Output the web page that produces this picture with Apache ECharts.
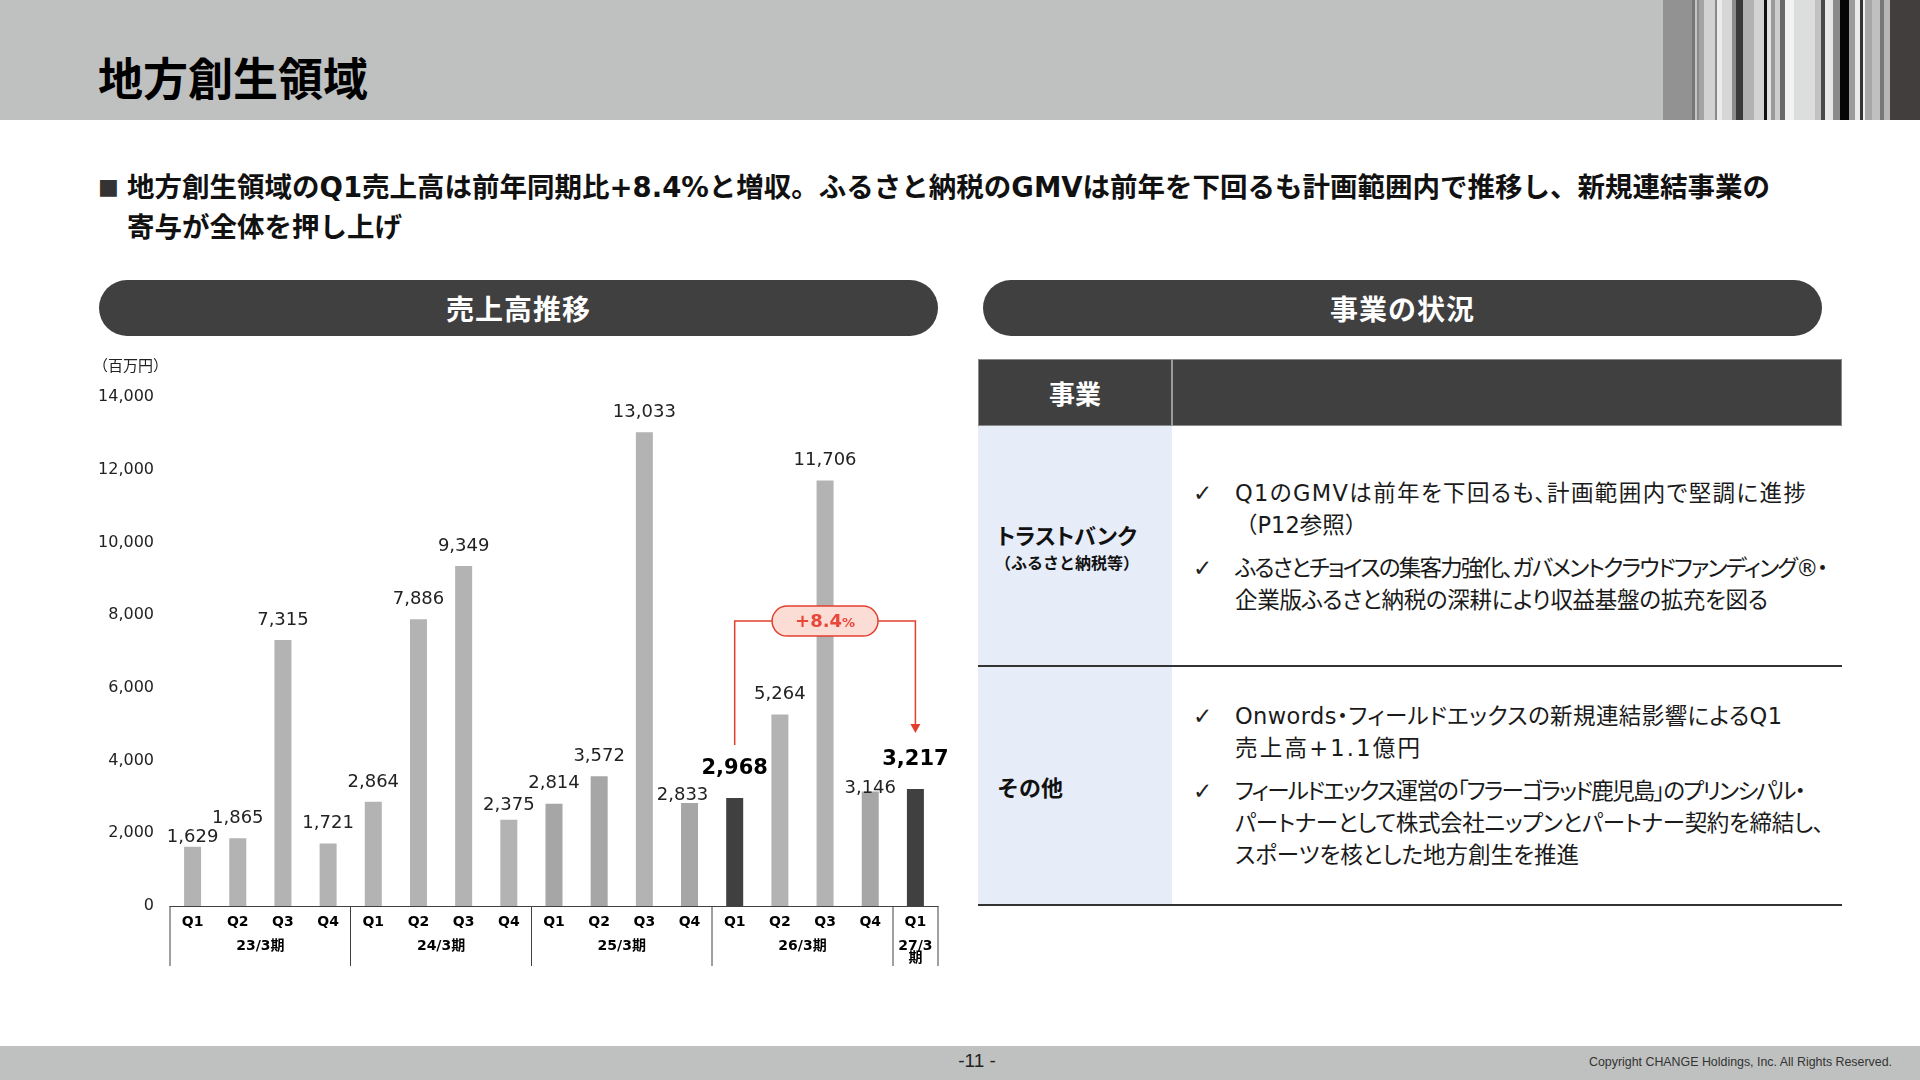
<!DOCTYPE html>
<html>
<head>
<meta charset="utf-8">
<script src="https://cdn.jsdelivr.net/npm/echarts@6/dist/echarts.min.js"></script>
<style>
html,body{margin:0;padding:0;width:1920px;height:1080px;overflow:hidden;background:#fff;
  font-family:"DejaVu Sans","Noto Sans CJK JP",sans-serif;color:#111;}
.abs{position:absolute;white-space:nowrap;}
#hdr{left:0;top:0;width:1920px;height:120px;background:#bfc1c0;}
#title{left:98px;top:52px;font-size:45px;line-height:50px;font-weight:700;color:#000;font-family:"Noto Sans CJK JP",sans-serif;}
#sq{left:98px;top:167px;font-size:22px;line-height:40px;color:#333;}
#lead{left:127px;top:167px;font-size:27.5px;line-height:40px;font-weight:700;color:#111;}
.pill{height:56px;top:280px;border-radius:28px;background:#404040;color:#fff;font-weight:700;font-size:28px;
  display:flex;align-items:center;justify-content:center;font-family:"Noto Sans CJK JP",sans-serif;letter-spacing:1px;}
#thead{left:978px;top:359px;width:864px;height:67px;background:#404040;box-sizing:border-box;border:1px solid #8a8a8a;}
#thdiv{left:1171px;top:359px;width:2px;height:67px;background:#9a9a9a;}
#thtxt{left:978px;top:359px;width:194px;height:67px;display:flex;align-items:center;justify-content:center;
  color:#fff;font-weight:700;font-size:26px;font-family:"Noto Sans CJK JP",sans-serif;}
#col1{left:978px;top:426px;width:194px;height:479px;background:#e7edf8;}
.hline{left:978px;width:864px;height:2px;background:#333;}
.rowh{font-weight:700;color:#111;font-family:"Noto Sans CJK JP",sans-serif;}
.chk{left:1193px;font-size:23px;line-height:32px;color:#222;}
.btx{left:1235px;font-size:22.5px;line-height:32px;color:#1a1a1a;font-feature-settings:"palt";}
.btx span{display:inline-block;}
#foot{left:0;top:1046px;width:1920px;height:34px;background:#bfc1c0;}
#pg{left:0;width:1954px;top:1046px;height:30px;line-height:30px;text-align:center;font-size:19px;color:#222;font-family:"Liberation Sans Narrow","Liberation Sans",sans-serif;}
#copy{right:28px;top:1053px;font-size:12.4px;line-height:18px;color:#333;font-family:"Liberation Sans Narrow","Liberation Sans",sans-serif;}
#chart{position:absolute;left:0;top:0;width:1920px;height:1080px;z-index:5;}
</style>
</head>
<body>
<div id="hdr" class="abs"></div>
<div id="stripes"></div>
<div id="title" class="abs">地方創生領域</div>
<div id="sq" class="abs">■</div>
<div id="lead" class="abs">地方創生領域のQ1売上高は前年同期比+8.4%と増収。ふるさと納税のGMVは前年を下回るも計画範囲内で推移し、新規連結事業の<br>寄与が全体を押し上げ</div>
<div class="abs pill" style="left:99px;width:839px;">売上高推移</div>
<div class="abs pill" style="left:983px;width:839px;">事業の状況</div>

<div id="thead" class="abs"></div>
<div id="thdiv" class="abs"></div>
<div id="thtxt" class="abs">事業</div>
<div id="col1" class="abs"></div>
<div class="abs hline" style="top:665px;"></div>
<div class="abs hline" style="top:904px;"></div>

<div class="abs rowh" style="left:997px;top:520px;font-size:22px;line-height:28px;font-feature-settings:'palt';">トラストバンク</div>
<div class="abs rowh" style="left:995px;top:551px;font-size:16px;line-height:22px;">（ふるさと納税等）</div>
<div class="abs rowh" style="left:997px;top:772px;font-size:22px;line-height:28px;">その他</div>

<div class="abs chk" style="top:477px;">✓</div>
<div class="abs btx" style="top:477px;"><span data-w="571">Q1のGMVは前年を下回るも、計画範囲内で堅調に進捗</span><br><span style="font-feature-settings:normal">（P12参照）</span></div>
<div class="abs chk" style="top:552px;">✓</div>
<div class="abs btx" style="top:552px;"><span data-w="593">ふるさとチョイスの集客力強化、ガバメントクラウドファンディング®・</span><br><span data-w="533">企業版ふるさと納税の深耕により収益基盤の拡充を図る</span></div>
<div class="abs chk" style="top:700px;">✓</div>
<div class="abs btx" style="top:700px;"><span data-w="547">Onwords・フィールドエックスの新規連結影響によるQ1</span><br><span data-w="185">売上高+1.1億円</span></div>
<div class="abs chk" style="top:775px;">✓</div>
<div class="abs btx" style="top:775px;"><span data-w="571">フィールドエックス運営の「フラーゴラッド鹿児島」のプリンシパル・</span><br><span data-w="589">パートナーとして株式会社ニップンとパートナー契約を締結し、</span><br><span data-w="344">スポーツを核とした地方創生を推進</span></div>

<div id="foot" class="abs"></div>
<div id="pg" class="abs">-11 -</div>
<div id="copy" class="abs">Copyright CHANGE Holdings, Inc. All Rights Reserved.</div>

<div id="chart"></div>

<script>
// ---- data ----
const quarters = ['Q1','Q2','Q3','Q4','Q1','Q2','Q3','Q4','Q1','Q2','Q3','Q4','Q1','Q2','Q3','Q4','Q1'];
const periods = ['23/3期','23/3期','23/3期','23/3期','24/3期','24/3期','24/3期','24/3期',
                 '25/3期','25/3期','25/3期','25/3期','26/3期','26/3期','26/3期','26/3期','27/3期'];
const sales = [1629,1865,7315,1721,2864,7886,9349,2375,2814,3572,13033,2833,2968,5264,11706,3146,3217];
const yTicks = [0,2000,4000,6000,8000,10000,12000,14000];
const unitText = '（百万円）';
const growthText = '+8.4';
const compareFrom = 12, compareTo = 16;

// ---- fit body text lines to the reference line lengths ----
document.querySelectorAll('.btx span[data-w]').forEach(sp=>{
  const target = +sp.dataset.w;
  const w0 = sp.getBoundingClientRect().width;
  const n = Array.from(sp.textContent).length;
  if(n>1) sp.style.letterSpacing = ((target-w0)/(n-1)).toFixed(2)+'px';
});

// ---- decorative header stripes ----
(function(){
  const s = [[1650,1663,'#bfc1c0'],[1663,1692,'#929292'],[1692,1694.5,'#777'],[1694.5,1697,'#c4c4c4'],
   [1697,1698.5,'#8a8a8a'],[1698.5,1703.5,'#a3a3a3'],[1703.5,1715,'#d2d2d2'],[1715,1717,'#8a8a8a'],
   [1717,1722,'#ececec'],[1722,1732,'#d6d6d6'],[1732,1736,'#8c8c8c'],[1736,1742.5,'#3a3a3a'],
   [1742.5,1753.5,'#b2b2b2'],[1753.5,1763.5,'#d3d3d3'],[1763.5,1767,'#111'],[1767,1771,'#e2e2e2'],
   [1771,1775,'#9a9a9a'],[1775,1780,'#cdcdcd'],[1780,1784.5,'#6a6a6a'],[1784.5,1794,'#f2f2f2'],
   [1794,1815,'#dcdede'],[1815,1821,'#c2c2c2'],[1821,1825,'#484848'],[1825,1833,'#e6e6e6'],
   [1833,1840,'#8a8a8a'],[1840,1848.5,'#050505'],[1848.5,1855,'#9a9a9a'],[1855,1860,'#e9e9e9'],
   [1860,1862.5,'#333'],[1862.5,1865,'#eee'],[1865,1872,'#a6a6a6'],[1872,1880,'#c0c0c0'],
   [1880,1883.5,'#777'],[1883.5,1889.5,'#b6b6b6'],[1889.5,1920,'#433e3e']];
  const c = document.getElementById('stripes');
  s.forEach(([a,b,col])=>{
    const d=document.createElement('div');
    d.style.cssText='position:absolute;top:0;height:120px;left:'+a+'px;width:'+(b-a)+'px;background:'+col;
    c.appendChild(d);
  });
})();

// ---- chart ----
const chart = echarts.init(document.getElementById('chart'), null, {renderer:'canvas'});
const highlight = [compareFrom, compareTo];
const darker = [8,9,11,15];
const labelTweak = {0:{distance:0},7:{distance:5},11:{distance:-1,offset:[-7,0]},15:{distance:-6}};

const barData = sales.map((v,i)=>{
  const isHi = highlight.includes(i);
  const lab = isHi
    ? {distance:19, fontSize:21, fontWeight:'bold', color:'#000'}
    : Object.assign({distance:11}, labelTweak[i]||{});
  return {
    value: v,
    itemStyle:{color: isHi ? '#404040' : (darker.includes(i) ? '#a6a6a6' : '#b3b3b3')},
    label: lab
  };
});

const option = {
  animation:false,
  textStyle:{fontFamily:'"DejaVu Sans","Noto Sans CJK JP",sans-serif'},
  grid:{left:170,right:982,top:397,bottom:174,containLabel:false},
  xAxis:{
    type:'category', data:quarters,
    axisLine:{show:true,lineStyle:{color:'#404040',width:1}},
    axisTick:{show:false},
    axisLabel:{interval:0,margin:9,fontSize:14,fontWeight:'bold',color:'#000'}
  },
  yAxis:{
    type:'value', min:yTicks[0], max:yTicks[yTicks.length-1], interval:yTicks[1]-yTicks[0],
    axisLine:{show:false}, axisTick:{show:false}, splitLine:{show:false},
    axisLabel:{margin:16,fontSize:16,color:'#222',formatter:v=>v.toLocaleString('en-US')}
  },
  series:[{
    type:'bar', data:barData, barWidth:17,
    label:{show:true,position:'top',fontSize:18,color:'#222',
      formatter:p=>p.value.toLocaleString('en-US')}
  }]
};
chart.setOption(option);

// ---- axis groups, separators and annotation from the library's scales ----
const px = (i,v)=>chart.convertToPixel({gridIndex:0},[i,v]);
const bw = px(1,0)[0]-px(0,0)[0];
const y0 = px(0,0)[1];
const g = [];
g.push({type:'text',left:93,top:358,style:{text:unitText,font:'15px "Noto Sans CJK JP"',fill:'#222'}});
let groups=[];
periods.forEach((p,i)=>{
  if(!groups.length || groups[groups.length-1].name!==p) groups.push({name:p,start:i,end:i});
  else groups[groups.length-1].end=i;
});
const bounds=new Set();
groups.forEach(gr=>{
  const xl=px(gr.start,0)[0]-bw/2, xr=px(gr.end,0)[0]+bw/2;
  bounds.add(Math.round(xl*2)/2); bounds.add(Math.round(xr*2)/2);
  const cx=(xl+xr)/2;
  const single = gr.end===gr.start;
  g.push({type:'text',x:cx,y:single?940:946,z:10,style:{
    text: single ? gr.name.replace('期','\n期') : gr.name,
    font:'bold 14px "DejaVu Sans","Noto Sans CJK JP"', fill:'#000',
    align:'center', verticalAlign:single?'top':'middle', lineHeight:single?12:16}});
});
bounds.forEach(bx=>{
  g.push({type:'line',z:10,shape:{x1:bx,y1:y0,x2:bx,y2:y0+60},style:{stroke:'#404040',lineWidth:1}});
});
const red='#e2402f';
const xa=px(compareFrom,0)[0], xb=px(compareTo,0)[0];
const ya=px(compareFrom,sales[compareFrom])[1], yb=px(compareTo,sales[compareTo])[1];
const lvl=ya-177;
const tip=yb-56;
g.push({type:'polyline',z:50,shape:{points:[[xa,ya-53],[xa,lvl],[xb,lvl],[xb,tip-8]]},
  style:{stroke:red,lineWidth:1.5,fill:null}});
g.push({type:'polygon',z:50,shape:{points:[[xb-5,tip-9],[xb+5,tip-9],[xb,tip]]},style:{fill:red}});
const cxm=(xa+xb)/2;
g.push({type:'rect',z:60,shape:{x:cxm-53,y:lvl-15,width:106,height:30,r:15},
  style:{fill:'#fcddd6',stroke:red,lineWidth:1.5}});
g.push({type:'text',z:61,x:cxm,y:lvl+1,style:{
  text:'{a|'+growthText+'}{b|%}',align:'center',verticalAlign:'middle',
  rich:{a:{font:'bold 18px "DejaVu Sans"',fill:'#e8473a'},b:{font:'bold 13px "DejaVu Sans"',fill:'#e8473a',padding:[4,0,0,0]}}}});
chart.setOption({graphic:{elements:g}});
</script>
</body>
</html>
